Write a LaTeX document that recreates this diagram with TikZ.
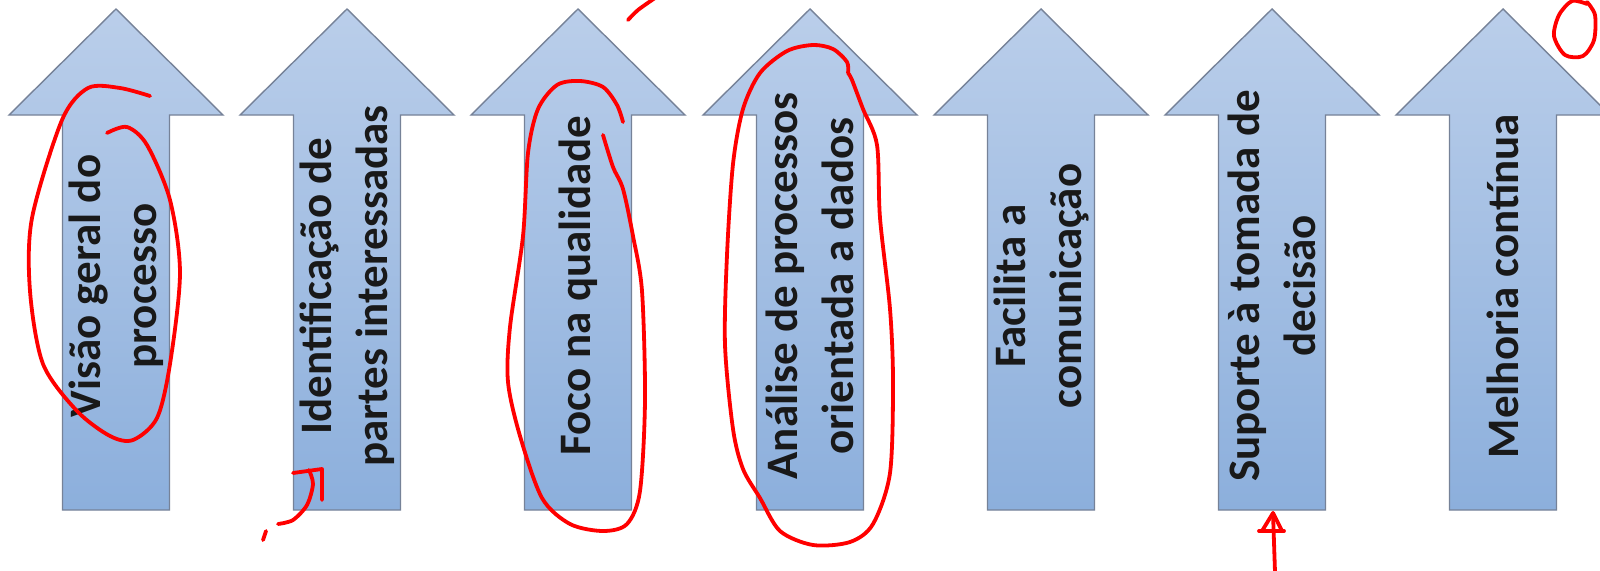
\documentclass[tikz,border=0pt]{standalone}
\usepackage{fontspec}
\setmainfont{Carlito}
\definecolor{arrtop}{RGB}{186,206,234}
\definecolor{arrbot}{RGB}{140,175,220}
\definecolor{arredge}{RGB}{118,130,152}
\definecolor{ink}{RGB}{255,0,0}
\tikzset{
  arrowbody/.style={draw=arredge, line width=1.4pt, top color=arrtop, bottom color=arrbot, line join=miter},
  arrowtext/.style={rotate=90, align=center, text=black!90, font=\bfseries\fontsize{45}{56}\selectfont},
  scribble/.style={draw=ink, line width=3.8pt, line cap=round, line join=round}
}
\newcommand{\uparrowat}[1]{%
  \path[arrowbody] (#1-107,115) -- (#1,9) -- (#1+107,115) -- (#1+53.5,115) -- (#1+53.5,510) -- (#1-53.5,510) -- (#1-53.5,115) -- cycle;}
\begin{document}
\begin{tikzpicture}[x=1pt,y=-1pt]
\useasboundingbox (0,0) rectangle (1600,570);
\fill[white] (0,0) rectangle (1600,570);
\foreach \cx in {116,347,578,810,1041,1272,1503} {\uparrowat{\cx}}
\node[arrowtext] (t1) at (116,286) {Visão geral do\\processo};
\node[arrowtext] (t2) at (347,286) {Identificação de\\partes interessadas};
\node[arrowtext] (t3) at (578,286) {Foco na qualidade};
\node[arrowtext] (t4) at (810,286) {Análise de processos\\orientada a dados};
\node[arrowtext] (t5) at (1041,286) {Facilita a\\comunicação};
\node[arrowtext] (t6) at (1272,286) {Suporte à tomada de\\decisão};
\node[arrowtext] (t7) at (1503,286) {Melhoria contínua};
% red hand-drawn marks
\draw[scribble] plot[smooth] coordinates {(150,96) (120,88) (88,88) (62,120) (32,218) (30,291) (43,364) (77,411) (110,436) (133,440) (157,418) (170,364) (180,273) (170,200) (147,145) (127,127) (107,133)};
\draw[scribble] plot[smooth] coordinates {(278,524) (293,520) (307,505) (313,484) (309,470)};
\draw[scribble] (293,473) -- (322,469) -- (322,500);
\draw[scribble] (263,540) -- (266,531);
\draw[scribble] plot[smooth] coordinates {(628,20) (638,10) (655,-2)};
\draw[scribble] plot[smooth] coordinates {(623,122) (617,105) (603,87) (580,81) (557,85) (538,109) (528,153) (523,236) (510,327) (508,382) (520,436) (542,498) (570,524) (603,531) (627,524) (640,491) (645,400) (642,291) (633,236) (623,189) (613,167) (603,135)};
\draw[scribble] plot[smooth] coordinates {(848,73) (847,62) (833,49) (813,45) (787,51) (760,73) (743,109) (733,164) (727,255) (725,345) (733,429) (743,469) (760,498) (780,531) (813,545) (850,542) (873,524) (890,473) (893,382) (890,309) (880,218) (877,145) (863,109) (852,80) (848,73)};
\draw[scribble] (1275,572) -- (1273,513);
\draw[scribble] (1262,531) -- (1273,513) -- (1282,531);
\draw[scribble] (1259,531) -- (1284,531);
\draw[scribble] plot[smooth] coordinates {(1587,4) (1572,1) (1559,15) (1554,36) (1565,55) (1583,56) (1594,40) (1595,15) (1587,2)};
\end{tikzpicture}
\end{document}
